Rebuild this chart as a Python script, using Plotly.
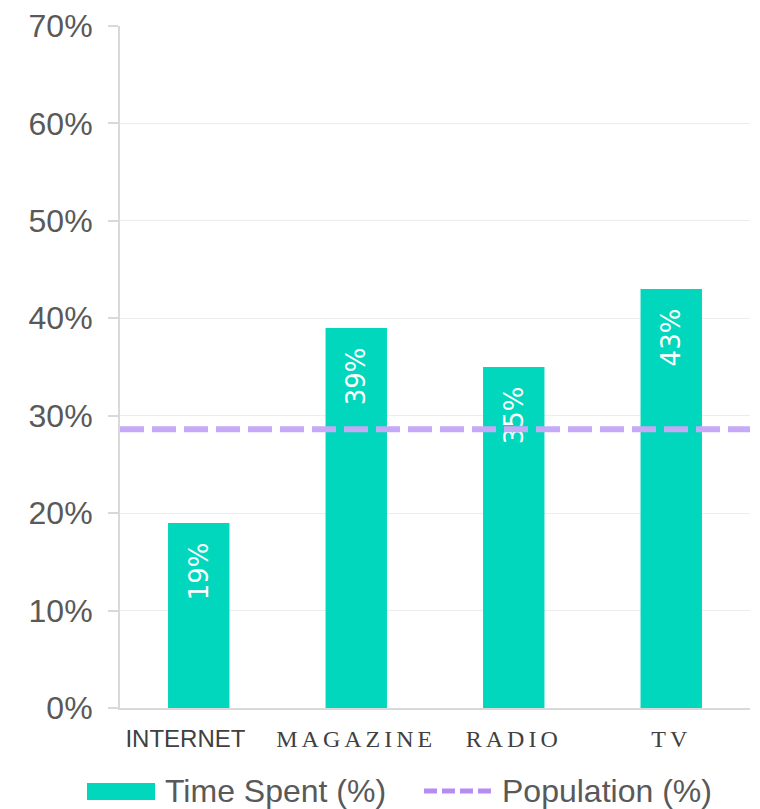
import plotly.graph_objects as go

categories = ["INTERNET", "MAGAZINE", "RADIO", "TV"]
time_spent = [19, 39, 35, 43]
population = 28.6
tick_vals = [0, 10, 20, 30, 40, 50, 60, 70]
tick_text = ["0%", "10%", "20%", "30%", "40%", "50%", "60%", "70%"]

NB = "\u00a0"
cat_labels = [
    "INTERNET" + NB * 4,
    "<span style='font-family:Liberation Serif;letter-spacing:4px'>MAGAZINE</span>",
    "<span style='font-family:Liberation Serif;letter-spacing:4px'>RADIO</span>",
    "<span style='font-family:Liberation Serif;letter-spacing:4px'>TV</span>",
]

BAR_COLOR = "#00D7BD"
LINE_COLOR = "#C6AAF7"
LEG_LINE_COLOR = "#B68CF2"
TXT = "#595959"

fig = go.Figure()
fig.add_trace(go.Bar(
    x=categories, y=time_spent, name="Time Spent (%)",
    marker=dict(color=BAR_COLOR, line=dict(width=0)),
    width=0.39,
    text=[f"{v}%" + NB * 2 for v in time_spent],
    textposition="inside", insidetextanchor="end", textangle=-90,
    textfont=dict(color="white", size=26, family="DejaVu Sans"),
    showlegend=False,
))
fig.add_shape(
    type="line", xref="x domain", yref="y", x0=0, x1=1, y0=population, y1=population,
    line=dict(color=LINE_COLOR, width=6, dash="24px,8px"), layer="above",
)

# manual legend (paper coords)
fig.add_shape(type="rect", xref="paper", yref="paper",
              x0=-0.0524, x1=0.0556, y0=-0.1349, y1=-0.110,
              fillcolor=BAR_COLOR, line=dict(width=0))
fig.add_shape(type="line", xref="paper", yref="paper",
              x0=0.4825, x1=0.5937, y0=-0.1217, y1=-0.1217,
              line=dict(color=LEG_LINE_COLOR, width=5, dash="13px,5px"))
fig.add_annotation(text="Time Spent (%)", xref="paper", yref="paper",
                   x=0.0683, y=-0.1217, xanchor="left", yanchor="middle",
                   showarrow=False, font=dict(size=32, color=TXT))
fig.add_annotation(text="Population (%)", xref="paper", yref="paper",
                   x=0.603, y=-0.1217, xanchor="left", yanchor="middle",
                   showarrow=False, font=dict(size=32, color=TXT))

fig.update_layout(
    width=752, height=803,
    margin=dict(l=112, r=10, t=18, b=103),
    plot_bgcolor="white", paper_bgcolor="white",
    font=dict(family="Liberation Sans, Arial", color=TXT),
    showlegend=False,
    xaxis=dict(
        tickvals=categories, ticktext=cat_labels,
        tickfont=dict(size=24, color="#404040"),
        showline=True, linecolor="#D9D9D9", linewidth=2,
        ticks="", showgrid=False, automargin=False,
        ticklabelstandoff=8,
    ),
    yaxis=dict(
        range=[0, 70], tickvals=tick_vals, ticktext=tick_text,
        tickfont=dict(size=32, color=TXT),
        showline=True, linecolor="#D9D9D9", linewidth=2,
        ticks="outside", ticklen=10, tickcolor="#D9D9D9", tickwidth=2,
        showgrid=True, gridcolor="#EDEDED", gridwidth=1,
        zeroline=False, automargin=False, ticklabelstandoff=9,
        ticklabeloverflow="allow",
    ),
)

fig.write_html("out.html")
